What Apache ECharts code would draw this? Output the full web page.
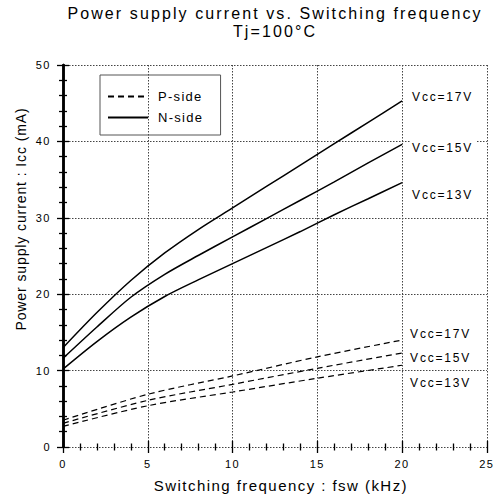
<!DOCTYPE html>
<html><head><meta charset="utf-8">
<script src="https://cdn.jsdelivr.net/npm/echarts@6/dist/echarts.min.js"></script>
<style>html,body{margin:0;padding:0;background:#fff}#main{width:496px;height:504px}</style>
</head><body><div id="main"></div>
<script>
// ---- data ----
const titleLines = ['Power supply current vs. Switching frequency', 'Tj=100°C'];
const xName = 'Switching frequency : fsw (kHz)';
const yName = 'Power supply current : Icc (mA)';
const legendNames = ['P-side', 'N-side'];
const vccLabels = ['Vcc=17V', 'Vcc=15V', 'Vcc=13V'];

const nFreq = [0, 2, 4, 6, 8, 10, 12, 14, 16, 18, 20];
const nSide17 = [13.0, 17.6, 21.8, 25.4, 28.5, 31.3, 34.1, 36.9, 39.7, 42.5, 45.3];
const nSide15 = [11.6, 15.7, 19.6, 22.6, 25.1, 27.5, 29.9, 32.3, 34.7, 37.2, 39.6];
const nSide13 = [10.2, 13.8, 17.0, 19.7, 21.9, 24.0, 26.1, 28.2, 30.4, 32.5, 34.6];

const pFreq = [0, 5, 10, 15, 20];
const pSide17 = [3.5, 6.9, 9.3, 11.8, 14.0];
const pSide15 = [3.1, 6.1, 8.2, 10.3, 12.3];
const pSide13 = [2.7, 5.4, 7.2, 9.0, 10.7];

// ---- styling ----
const FONT = '"Liberation Sans", Arial, Helvetica, sans-serif';
const spacingBySize = { 16: 2.1, 15: 1.45, 14: 0.9, 13: 1.3, 12: 1.8, 11: 1.5 };

function pairs(xs, ys) { return xs.map((x, i) => [x, ys[i]]); }

function lineSeries(name, xs, ys, dashed, label, offset, extraLabel) {
  return {
    type: 'line', name: name, data: pairs(xs, ys), symbol: 'none', smooth: 0.3,
    silent: true, z: 5,
    itemStyle: { color: '#000', opacity: 0 },
    lineStyle: { color: '#000', width: dashed ? 1.2 : 1.5, type: dashed ? [6, 4] : 'solid' },
    endLabel: Object.assign({
      show: true, formatter: label, color: '#000', fontSize: 12, fontFamily: FONT,
      distance: 0, offset: offset
    }, extraLabel || {})
  };
}

const tickStyle = { color: '#000', width: 1.3 };
const gridLine = { color: '#444', width: 1, type: [1.5, 1.5] };
const option = {
  animation: false,
  textStyle: { fontFamily: FONT },
  title: {
    text: titleLines.join('\n'), left: 275, top: 4, textAlign: 'center', padding: 0,
    textStyle: { fontSize: 16, fontWeight: 'normal', color: '#000', lineHeight: 18, fontFamily: FONT }
  },
  legend: {
    data: legendNames, orient: 'vertical', left: 100, top: 75,
    itemWidth: 40, itemHeight: 14, itemGap: 8,
    padding: [15, 25, 11, 7], borderColor: '#555', borderWidth: 1,
    selectedMode: false,
    itemStyle: { opacity: 0 },
    textStyle: { fontSize: 13, color: '#000', fontFamily: FONT, padding: [0, 0, 0, 5] }
  },
  grid: { left: 63, right: 8, top: 65, bottom: 57, containLabel: false },
  xAxis: [{
    type: 'value', min: 0, max: 25, interval: 5, position: 'bottom',
    axisLine: { show: false },
    axisTick: { show: true, inside: true, length: 6, lineStyle: tickStyle },
    minorTick: { show: true, splitNumber: 5, length: 3.5, lineStyle: tickStyle },
    axisLabel: { fontSize: 11, color: '#000', margin: 11, fontFamily: FONT },
    splitLine: { show: true, lineStyle: gridLine },
    name: xName, nameLocation: 'middle', nameGap: 31,
    nameTextStyle: { fontSize: 15, color: '#000', fontFamily: FONT, padding: [0, 0, 0, 12] }
  }, {
    type: 'value', min: 0, max: 25, interval: 5, position: 'top',
    axisLine: { show: false },
    axisTick: { show: true, inside: true, length: 6, lineStyle: tickStyle },
    minorTick: { show: true, splitNumber: 5, length: 3.5, lineStyle: tickStyle },
    axisLabel: { show: false }, splitLine: { show: false }
  }],
  yAxis: [{
    type: 'value', min: 0, max: 50, interval: 10, position: 'left',
    axisLine: { show: true, lineStyle: { color: '#000', width: 2.5 } },
    axisTick: { show: true, inside: true, length: 6, lineStyle: tickStyle },
    minorTick: { show: true, splitNumber: 5, length: 4, lineStyle: tickStyle },
    axisLabel: { fontSize: 11, color: '#000', margin: 12, fontFamily: FONT },
    splitLine: { show: true, lineStyle: gridLine },
    name: yName, nameLocation: 'middle', nameGap: 26,
    nameTextStyle: { fontSize: 14, color: '#000', fontFamily: FONT, padding: [0, 0, 0, 74] }
  }, {
    type: 'value', min: 0, max: 50, interval: 10, position: 'right',
    axisLine: { show: true, lineStyle: { color: '#000', width: 2.5 } },
    axisTick: { show: true, inside: true, length: 6, lineStyle: tickStyle },
    minorTick: { show: true, splitNumber: 5, length: 4, lineStyle: tickStyle },
    axisLabel: { show: false }, splitLine: { show: false }
  }],
  series: [
    lineSeries(legendNames[0], pFreq, pSide17, true, vccLabels[0], [8, -6]),
    lineSeries(legendNames[0], pFreq, pSide15, true, vccLabels[1], [8, 5]),
    lineSeries(legendNames[0], pFreq, pSide13, true, vccLabels[2], [8, 17.7]),
    lineSeries(legendNames[1], nFreq, nSide17, false, vccLabels[0], [10, -4]),
    lineSeries(legendNames[1], nFreq, nSide15, false, vccLabels[1], [8, 3.5],
      { backgroundColor: '#fff', padding: [7, 16, 3, 2] }),
    lineSeries(legendNames[1], nFreq, nSide13, false, vccLabels[2], [10, 12.3])
  ]
};

const chart = echarts.init(document.getElementById('main'), null, { renderer: 'svg' });
chart.setOption(option);

function applySpacing() {
  document.querySelectorAll('#main text').forEach(function (el) {
    const fs = Math.round(parseFloat(getComputedStyle(el).fontSize));
    const s = spacingBySize[fs];
    if (s !== undefined) el.style.letterSpacing = s + 'px';
  });
}
applySpacing();
chart.on('finished', applySpacing);
setTimeout(applySpacing, 0);
setTimeout(applySpacing, 50);
</script>
</body></html>
